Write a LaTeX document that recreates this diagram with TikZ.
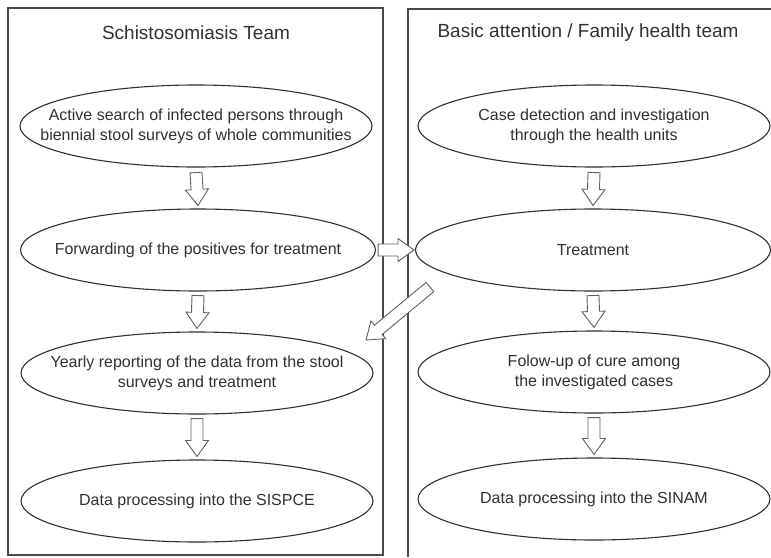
\documentclass[tikz,border=0pt]{standalone}
\usepackage{fontspec}
\setmainfont{Liberation Sans}
\usetikzlibrary{shapes.geometric,calc}
\definecolor{ink}{HTML}{303030}
\definecolor{boxline}{HTML}{4A4A4A}
\definecolor{arrline}{HTML}{606060}
\tikzset{
  ell/.style={ellipse, draw=ink, line width=1.1pt, minimum width=352pt, minimum height=82pt,
    inner sep=0pt},
  lab/.style={align=center, text=ink, inner sep=0pt, font=\fontsize{16}{20}\selectfont},
  ttl/.style={text=ink, font=\fontsize{19}{23}\selectfont},
  panel/.style={draw=boxline, line width=1.2pt},
  arr/.style={draw=arrline, fill=white, line width=0.9pt, line join=miter},
}
\newcommand\blockarrow[2]{%
  \path[arr] let \p1=(#1), \p2=(#2),
    \n1={atan2(\y2-\y1,\x2-\x1)}, \n2={veclen(\x2-\x1,\y2-\y1)} in
    [shift={(\p1)}, rotate=\n1]
    (0pt,-6pt) -- ({\n2-16pt},-6pt) -- ({\n2-16pt},-11.5pt) -- ({\n2+0pt},0pt)
    -- ({\n2-16pt},11.5pt) -- ({\n2-16pt},6pt) -- (0pt,6pt) -- cycle;}
\begin{document}
\begin{tikzpicture}[x=1pt,y=-1pt]
  \useasboundingbox (0,0) rectangle (771,557);
  % panels
  \draw[panel] (8,8) rectangle (383,555);
  \draw[panel] (771,9) -- (408,9) -- (408,557);
  % titles
  \node[ttl] (t1) at (196,33) {Schistosomiasis Team};
  \node[ttl] (t2) at (588,33) {Basic attention / Family health team};
  % left column
  \node[ell, label={[lab]center:{Active search of infected persons through\\biennial stool surveys of whole communities}}] (L1) at (196,126) {};
  \node[ell, minimum width=355pt, label={[lab]center:{Forwarding of the positives for treatment}}] (L2) at (198,250) {};
  \node[ell, label={[lab]center:{Yearly reporting of the data from the stool\\surveys and treatment}}] (L3) at (197,373) {};
  \node[ell, label={[lab]center:{Data processing into the SISPCE}}] (L4) at (197,501) {};
  % right column
  \node[ell, label={[lab]center:{Case detection and investigation\\through the health units}}] (R1) at (594,126) {};
  \node[ell, minimum width=355pt, label={[lab]center:{Treatment}}] (R2) at (593,250) {};
  \node[ell, label={[lab]center:{Folow-up of cure among\\the investigated cases}}] (R3) at (594,372) {};
  \node[ell, label={[lab]center:{Data processing into the SINAM}}] (R4) at (594,499) {};
  % arrows
  \blockarrow{$(L1.south)+(0,5)$}{$(L2.north)+(0,-3)$}
  \blockarrow{$(L2.south)+(0,4)$}{$(L3.north)+(0,-3)$}
  \blockarrow{$(L3.south)+(0,4)$}{$(L4.north)+(0,-3)$}
  \blockarrow{$(R1.south)+(0,5)$}{$(R2.north)+(0,-3)$}
  \blockarrow{$(R2.south)+(0,4)$}{$(R3.north)+(0,-3)$}
  \blockarrow{$(R3.south)+(0,4)$}{$(R4.north)+(0,-3)$}
  \blockarrow{$(L2.east)+(2,0)$}{$(R2.west)+(-1,0)$}
  \blockarrow{$(R2.center)+(-163,37)$}{$(L3.center)+(169,-33)$}
\end{tikzpicture}
\end{document}
